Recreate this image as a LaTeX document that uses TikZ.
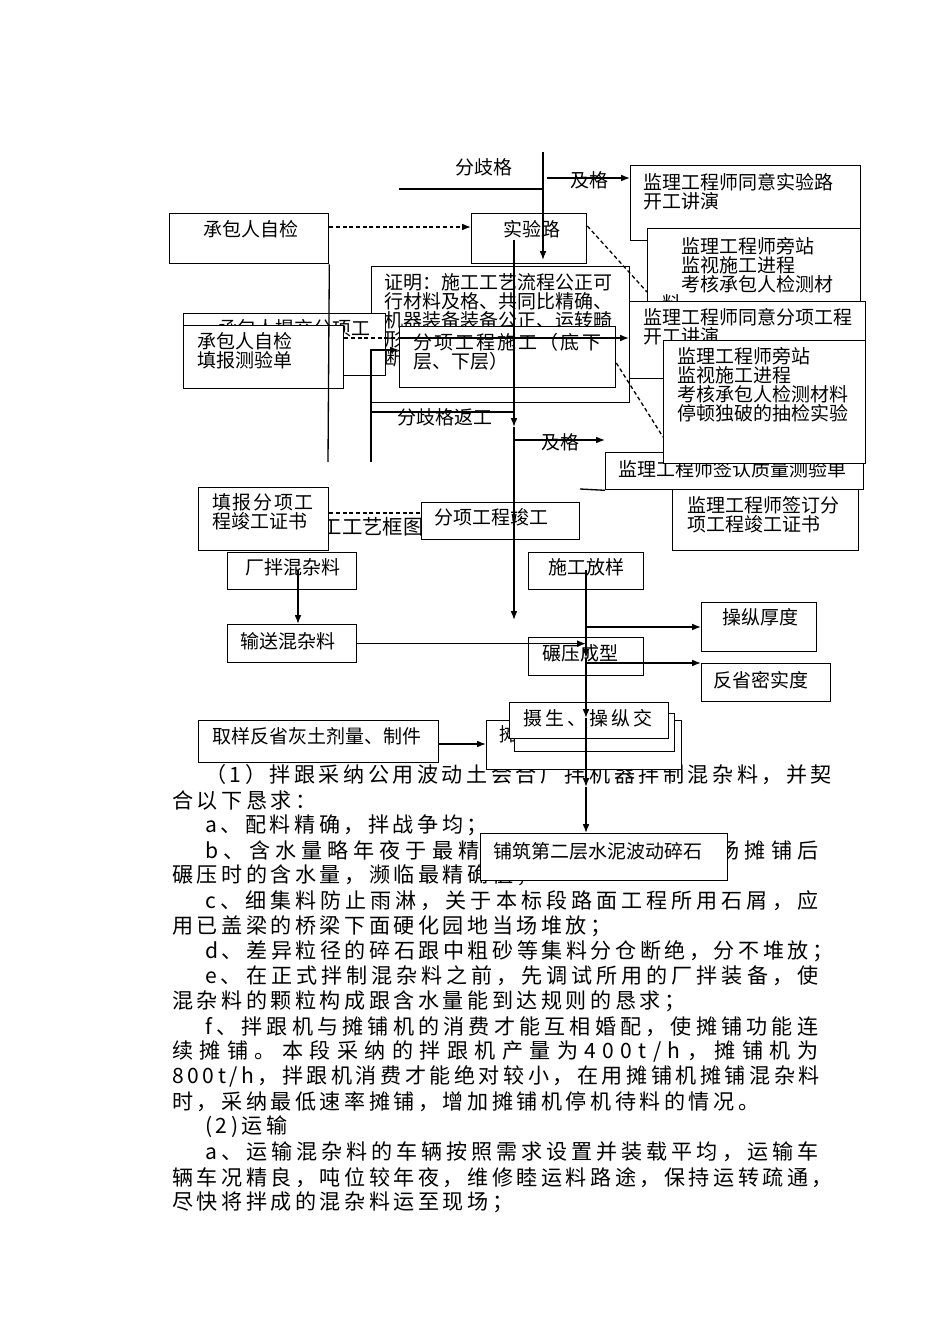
\documentclass[tikz,border=0pt]{standalone}
\usepackage{fontspec}
\setmainfont{Noto Sans CJK SC}
\usetikzlibrary{arrows.meta}
\setlength{\lineskiplimit}{-5pt}
\tikzstyle{box}=[draw, fill=white, anchor=north west, inner sep=0pt, line width=0.75pt]
\tikzstyle{txt}=[anchor=north west, inner sep=0pt, align=left, font=\fontsize{10.8}{10.8}\selectfont]
\tikzstyle{lbl}=[inner sep=0pt, font=\fontsize{10.8}{10.8}\selectfont]
\tikzstyle{para}=[anchor=west, inner sep=0pt, font=\fontsize{12}{14}\selectfont]
\tikzstyle{edge}=[draw, line width=0.75pt, -{Latex[length=5pt,width=3.8pt]}]
\tikzstyle{plainedge}=[draw, line width=0.75pt]
\tikzstyle{dashededge}=[draw, line width=0.75pt, dash pattern=on 2.2pt off 1.6pt]
\tikzstyle{dashedarrow}=[dashededge, -{Latex[length=5pt,width=3.8pt]}]
% spread characters of a line
\newskip\jsep \jsep=2pt plus 1fil
\newcommand\jfirst[1]{#1\jrest}
\newcommand\jrest[1]{\ifx\relax#1\else\hskip\jsep #1\expandafter\jrest\fi}
\newcommand\jline[2]{\hbox to #1{\jfirst#2\relax}}
\newcommand\nline[1]{\hbox{\jfirst#1\relax}}
\newcommand\spread[2]{\def\spk{\kern#1}\sfirst#2\relax}
\newcommand\sfirst[1]{#1\srest}
\newcommand\srest[1]{\ifx\relax#1\else\spk #1\expandafter\srest\fi}
\begin{document}
\begin{tikzpicture}[x=0.02cm, y=-0.02cm]
  \path[fill=white] (0,0) rectangle (950,1344);

  % running text under the chart
  \node[para] (p1) at (205,775) {\jline{12.26cm}{（1）拌跟采纳公用波动土会合厂拌机器拌制混杂料，并契}};
  \node[para] (p2) at (172,800.2) {\nline{合以下恳求：}};
  \node[para] (p3) at (205,825.3) {\nline{a、配料精确，拌战争均；}};
  \node[para] (p4) at (205,850.5) {\jline{12.26cm}{b、含水量略年夜于最精确含水量，使运到现场摊铺后}};
  \node[para] (p5) at (172,875.6) {\nline{碾压时的含水量，濒临最精确值；}};
  \node[para] (p6) at (205,900.8) {\jline{12.26cm}{c、细集料防止雨淋，关于本标段路面工程所用石屑，应}};
  \node[para] (p7) at (172,925.9) {\nline{用已盖梁的桥梁下面硬化园地当场堆放；}};
  \node[para] (p8) at (205,951) {\jline{12.26cm}{d、差异粒径的碎石跟中粗砂等集料分仓断绝，分不堆放；}};
  \node[para] (p9) at (205,976.2) {\jline{12.26cm}{e、在正式拌制混杂料之前，先调试所用的厂拌装备，使}};
  \node[para] (p10) at (172,1001.3) {\nline{混杂料的颗粒构成跟含水量能到达规则的恳求；}};
  \node[para] (p11) at (205,1026.5) {\jline{12.26cm}{f、拌跟机与摊铺机的消费才能互相婚配，使摊铺功能连}};
  \node[para] (p12) at (172,1051.6) {\jline{12.92cm}{续摊铺。本段采纳的拌跟机产量为400t/h，摊铺机为}};
  \node[para] (p13) at (172,1076.8) {\jline{12.92cm}{800t/h，拌跟机消费才能绝对较小，在用摊铺机摊铺混杂料}};
  \node[para] (p14) at (172,1101.9) {\nline{时，采纳最低速率摊铺，增加摊铺机停机待料的情况。}};
  \node[para] (p15) at (205,1127) {\nline{(2)运输}};
  \node[para] (p16) at (205,1152.2) {\jline{12.26cm}{a、运输混杂料的车辆按照需求设置并装载平均，运输车}};
  \node[para] (p17) at (172,1177.3) {\jline{12.92cm}{辆车况精良，吨位较年夜，维修睦运料路途，保持运转疏通，}};
  \node[para] (p18) at (172,1202.5) {\nline{尽快将拌成的混杂料运至现场；}};

  % loose labels
  \node[lbl, anchor=west, font=\fontsize{11.6}{11.6}\selectfont] (kt) at (301,527) {施工工艺框图};
  \node[lbl] (fqg) at (484,167) {分歧格};
  \node[lbl] (jg1t) at (589,180) {及格};
  \node[lbl] (jg2t) at (560,442) {及格};
  \node[lbl] (fgfg) at (445,417) {分歧格返工};

  % boxes, back to front
  \foreach \name/\bx/\by/\w/\h/\tx/\ty/\txt in {
      cbzj/169/213/159/50/203/230/{承包人自检},
      syl/471/213/115/50/503/230/{实验路},
      tyl/630/165/230/75/643/183/{监理工程师同意实验路\\开工讲演},
      pz1/647/228/213/92/662/247/{\quad 监理工程师旁站\\\quad 监视施工进程\\\quad 考核承包人检测材\\料},
      zm/371/266/258/136/384/283/{证明：施工工艺流程公正可\\行材料及格、共同比精确、\\机器装备装备公正、运转畸\\形\\断},
      tj/183/313/202/62/218/329/{承包人提交分项工},
      tbcy/183/325/160/63/197/342/{承包人自检\\填报测验单},
      fxsg/399/326/216/61/413/342/{\spread{1.2pt}{分项工程施工（底下}\\层、下层）},
      tyfx/629/301/236/77/643/318/{监理工程师同意分项工程\\开工讲演},
      qr/605/452/258/37/618/470/{监理工程师签认质量测验单},
      pz2/663/340/202/123/677/357/{监理工程师旁站\\监视施工进程\\考核承包人检测材料\\停顿独破的抽检实验},
      qd/672/489/186/61/687/506/{监理工程师签订分\\项工程竣工证书},
      tbjg/198/487/130/63/212/503/{\spread{0.9pt}{填报分项工}\\程竣工证书},
      fxjg/421/502/158/37/434/518/{分项工程竣工},
      cb/227/552/129/37/245/568/{厂拌混杂料},
      ss/227/624/129/38/240/642/{输送混杂料},
      fy/528/552/115/37/548/568/{施工放样},
      ny/528/637/115/38/542/654/{碾压成型},
      hd/701/602/115/49/722/618/{操纵厚度},
      msd/701/663/129/38/713/681/{反省密实度},
      tpA/486/720/195/49/499/735/{摊铺},
      tpB/514/713/160/38/514/732/{},
      tpC/509/702/159/36/523/719/{\spread{1.7pt}{摄生、操纵交}},
      qy/198/720/240/42/212/737/{取样反省灰土剂量、制件},
      pzsn/480/833/247/47/493/852/{铺筑第二层水泥波动碎石}}
  {
    \node[box, minimum width=\w*0.02cm, minimum height=\h*0.02cm] (\name) at (\bx,\by) {};
    \node[txt] (\name-t) at (\tx,\ty-9.5) {\txt};
  }

  % free ends of connectors
  \coordinate (fqL) at (399,189);
  \coordinate (fqT) at (543,152);
  \coordinate (sylin) at (543,260);
  \coordinate (jg1) at (547,178);
  \coordinate (v1) at (514,240);
  \coordinate (v2) at (514,427);
  \coordinate (v3) at (514,620);
  \coordinate (l1) at (328,462);
  \coordinate (r1) at (371,462);
  \coordinate (q0) at (580,489);
  \coordinate (cbo) at (298,570);
  \coordinate (vv) at (586,570);

  % connectors
  \path[plainedge] (fqL) -- (fqT |- fqL);
  \path[edge] (fqT) -- (sylin);
  \path[edge] (jg1) -- (jg1 -| tyl.west);
  \path[dashedarrow] (cbzj.east |- 0,227) -- (syl.west |- 0,227);
  \path[dashededge] (syl.east |- 0,226) -- (pz1.west |- 0,292);
  \path[edge] (v1) -- (v2);
  \path[edge] (v2) -- (v3);
  \path[plainedge] (cbzj.south east) -- (l1);
  \path[edge] (r1) -- (r1 |- 0,350) -- (fxsg.west |- 0,350);
  \path[plainedge] (r1 |- 0,412) -- (v1 |- 0,412);
  \path[dashededge] (tbcy.east |- 0,338) -- (fxsg.west |- 0,338);
  \path[edge] (fxsg.west |- 0,338) -- (tyfx.west |- 0,338);
  \path[dashededge] (fxsg.east |- 0,363) -- (pz2.west |- 0,437);
  \path[edge] (v1 |- 0,440) -- (qr.west |- 0,440);
  \path[plainedge] (q0) -- (qr.south west);
  \path[dashededge] (tbjg.east |- 0,513) -- (fxjg.west |- 0,513);
  \path[edge] (cbo) -- (cbo |- ss.north);
  \path[edge] (ss.east) -- (vv |- ss.east);
  \path[edge] (vv) -- (vv |- 0,658);
  \path[edge] (vv |- 0,658) -- (vv |- 0,718);
  \path[edge] (vv |- 0,718) -- (vv |- 0,787);
  \path[edge] (vv |- 0,787) -- (vv |- pzsn.north);
  \path[edge] (vv |- 0,627) -- (hd.west |- 0,627);
  \path[edge] (vv |- 0,663) -- (msd.west |- 0,663);
  \path[edge] (qy.east |- 0,744) -- (tpA.west |- 0,744);
\end{tikzpicture}
\end{document}
